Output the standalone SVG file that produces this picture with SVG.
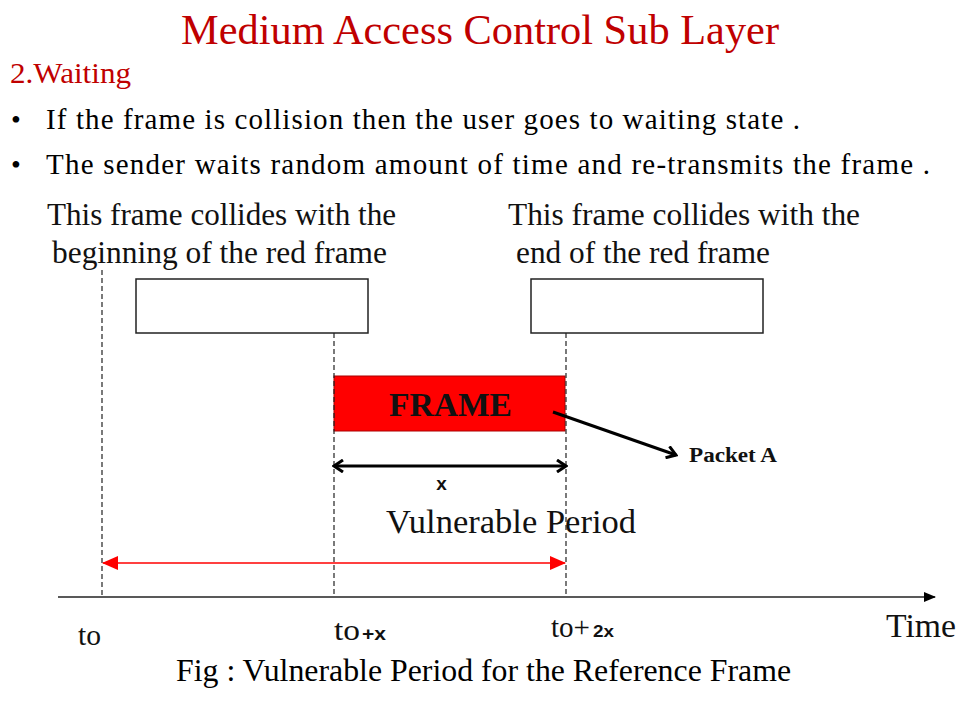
<svg xmlns="http://www.w3.org/2000/svg" width="960" height="720" viewBox="0 0 960 720">
<style>
.serif{font-family:"Liberation Serif","Times New Roman",serif;}
.sans{font-family:"Liberation Sans",Arial,sans-serif;}
.dash{stroke:#222;stroke-width:1.2;stroke-dasharray:5,3;fill:none;}
.box{fill:#fff;stroke:#222;stroke-width:1.5;}
</style>
<defs>
<marker id="open" markerWidth="12" markerHeight="14" refX="10" refY="7" orient="auto" markerUnits="userSpaceOnUse">
<path d="M1,1 L10,7 L1,13" fill="none" stroke="#000" stroke-width="3"/>
</marker>
<marker id="openStart" markerWidth="12" markerHeight="14" refX="2" refY="7" orient="auto" markerUnits="userSpaceOnUse">
<path d="M11,1 L2,7 L11,13" fill="none" stroke="#000" stroke-width="3"/>
</marker>
<marker id="redEnd" markerWidth="16" markerHeight="14" refX="15" refY="7" orient="auto" markerUnits="userSpaceOnUse">
<path d="M0,0 L16,7 L0,14 Z" fill="#f00"/>
</marker>
<marker id="redStart" markerWidth="16" markerHeight="14" refX="1" refY="7" orient="auto" markerUnits="userSpaceOnUse">
<path d="M16,0 L0,7 L16,14 Z" fill="#f00"/>
</marker>
<marker id="axis" markerWidth="12" markerHeight="10" refX="11" refY="5" orient="auto" markerUnits="userSpaceOnUse">
<path d="M0,0 L12,5 L0,10 Z" fill="#000"/>
</marker>
</defs>
<rect width="960" height="720" fill="#fff"/>

<text x="480" y="44" text-anchor="middle" font-family="Liberation Serif, Times New Roman, serif" font-size="42" fill="#c00000" textLength="598" lengthAdjust="spacingAndGlyphs">Medium Access Control Sub Layer</text>
<text x="10" y="83" font-family="Liberation Serif, Times New Roman, serif" font-size="30" fill="#c00000" textLength="121" lengthAdjust="spacingAndGlyphs">2.Waiting</text>
<text x="11" y="129" font-family="Liberation Serif, Times New Roman, serif" font-size="28" fill="#000">•</text>
<text x="46" y="129" font-family="Liberation Serif, Times New Roman, serif" font-size="29" fill="#000" textLength="754" lengthAdjust="spacing">If the frame is collision then the user goes to waiting state .</text>
<text x="11" y="174" font-family="Liberation Serif, Times New Roman, serif" font-size="28" fill="#000">•</text>
<text x="46" y="174" font-family="Liberation Serif, Times New Roman, serif" font-size="29" fill="#000" textLength="884" lengthAdjust="spacing">The sender waits random amount of time and re-transmits the frame .</text>

<g id="label-left" font-family="Liberation Serif, Times New Roman, serif" font-size="31" fill="#111">
<text x="47" y="225" textLength="349" lengthAdjust="spacingAndGlyphs">This frame collides with the</text>
<text x="52" y="263" textLength="335" lengthAdjust="spacingAndGlyphs">beginning of the red frame</text>
</g>
<g id="label-right" font-family="Liberation Serif, Times New Roman, serif" font-size="31" fill="#111">
<text x="508" y="225" textLength="352" lengthAdjust="spacingAndGlyphs">This frame collides with the</text>
<text x="516" y="263" textLength="254" lengthAdjust="spacingAndGlyphs">end of the red frame</text>
</g>

<g id="frame-left"><rect class="box" x="136" y="279" width="232" height="54"/></g>
<g id="frame-right"><rect class="box" x="531" y="279" width="232" height="54"/></g>
<g id="frame-red">
<rect x="334" y="376" width="231" height="55" fill="#f00" stroke="#a00" stroke-width="1"/>
<text x="389" y="416" font-family="Liberation Serif, Times New Roman, serif" font-size="33" font-weight="bold" fill="#111" textLength="123" lengthAdjust="spacingAndGlyphs">FRAME</text>
</g>
<g id="packet-a"><text x="689" y="462" font-family="Liberation Serif, Times New Roman, serif" font-size="20" font-weight="bold" fill="#111" textLength="88" lengthAdjust="spacingAndGlyphs">Packet A</text></g>

<g id="connectors">
<line class="dash" x1="102" y1="270" x2="102" y2="597"/>
<line class="dash" x1="334" y1="333" x2="334" y2="597"/>
<line class="dash" x1="566" y1="333" x2="566" y2="597"/>
<line x1="553" y1="412" x2="676" y2="455" stroke="#000" stroke-width="3" marker-end="url(#open)"/>
<line x1="334" y1="466" x2="566" y2="466" stroke="#000" stroke-width="3" marker-start="url(#openStart)" marker-end="url(#open)"/>
<line x1="103" y1="563" x2="565" y2="563" stroke="#f00" stroke-width="1.5" marker-start="url(#redStart)" marker-end="url(#redEnd)"/>
<line x1="58" y1="597" x2="935" y2="597" stroke="#222" stroke-width="1.5" marker-end="url(#axis)"/>
</g>

<text x="441.5" y="490" text-anchor="middle" font-family="Liberation Sans, Arial, sans-serif" font-size="19" font-weight="bold" fill="#111">x</text>
<text x="386" y="533" font-family="Liberation Serif, Times New Roman, serif" font-size="34" fill="#111" textLength="250" lengthAdjust="spacingAndGlyphs">Vulnerable Period</text>

<text x="78" y="645" font-family="Liberation Serif, Times New Roman, serif" font-size="30" fill="#111" textLength="23" lengthAdjust="spacingAndGlyphs">to</text>
<text x="334" y="640" font-family="Liberation Serif, Times New Roman, serif" font-size="30" fill="#111" textLength="26" lengthAdjust="spacingAndGlyphs">to</text>
<text x="362" y="640" font-family="Liberation Sans, Arial, sans-serif" font-size="18" font-weight="bold" fill="#111" textLength="24" lengthAdjust="spacingAndGlyphs">+x</text>
<text x="551" y="637" font-family="Liberation Serif, Times New Roman, serif" font-size="30" fill="#111" textLength="39" lengthAdjust="spacingAndGlyphs">to+</text>
<text x="593" y="637" font-family="Liberation Sans, Arial, sans-serif" font-size="17" font-weight="bold" fill="#111" textLength="21" lengthAdjust="spacingAndGlyphs">2x</text>
<text x="886" y="637" font-family="Liberation Serif, Times New Roman, serif" font-size="34" fill="#111" textLength="70" lengthAdjust="spacingAndGlyphs">Time</text>

<text x="176" y="681" font-family="Liberation Serif, Times New Roman, serif" font-size="31" fill="#000" textLength="615" lengthAdjust="spacingAndGlyphs">Fig : Vulnerable Period for the Reference Frame</text>
</svg>
